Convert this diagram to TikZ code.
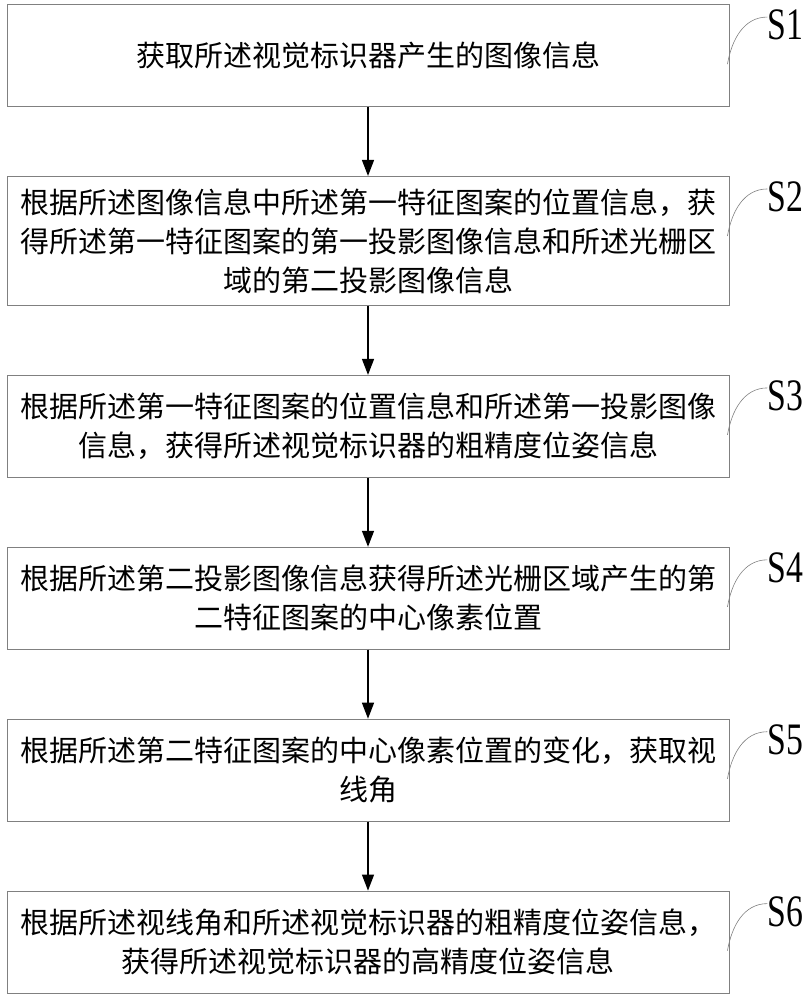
\documentclass[tikz,border=0pt]{standalone}
\usepackage{fontspec}
\usepackage{graphicx}
\setmainfont{Noto Sans CJK SC}
\newfontfamily\labfont{Liberation Serif}
\usepackage{tikz}
\usetikzlibrary{arrows.meta}
\usetikzlibrary{positioning}
\tikzstyle{aS}=[every edge/.style={draw,-{Triangle[length=16pt,width=12pt]},line width=1.3pt}]
\tikzstyle{Astep}=[draw=gray,line width=0.9pt,minimum width=722pt,minimum height=102pt,
                inner ysep=12pt,align=center,font=\fontsize{29pt}{39pt}\selectfont,node distance=69pt]
\tikzstyle{Alab}=[inner sep=0,font=\labfont\fontsize{45pt}{45pt}\selectfont]
\tikzstyle{Acurve}=[draw=gray,line width=0.6pt]
\newcommand{\tagl}[1]{\node[Alab] (#1n) at ([xshift=56pt,yshift=-21pt]#1.north east) {\scalebox{0.75}[1]{#1}};\draw[Acurve] ([xshift=-2pt,yshift=-60pt]#1.north east) to[out=80,in=180] ([yshift=8pt]#1n.west);}
\newcommand{\firstl}[2]{\node[Astep] (#1) at (368,-55.5) {#2};\tagl{#1}}
\newcommand{\stepl}[3]{\node[Astep,below=of #1] (#2) {#3};\path (#1) edge (#2);\tagl{#2}}
\begin{document}
\begin{tikzpicture}[aS,x=1pt,y=1pt]
	\useasboundingbox (0,0) rectangle (810,-1000);

	\firstl{S1}{获取所述视觉标识器产生的图像信息};
	\stepl{S1}{S2}{根据所述图像信息中所述第一特征图案的位置信息，获\\得所述第一特征图案的第一投影图像信息和所述光栅区\\域的第二投影图像信息};
	\stepl{S2}{S3}{根据所述第一特征图案的位置信息和所述第一投影图像\\信息，获得所述视觉标识器的粗精度位姿信息};
	\stepl{S3}{S4}{根据所述第二投影图像信息获得所述光栅区域产生的第\\二特征图案的中心像素位置};
	\stepl{S4}{S5}{根据所述第二特征图案的中心像素位置的变化，获取视\\线角};
	\stepl{S5}{S6}{根据所述视线角和所述视觉标识器的粗精度位姿信息，\\获得所述视觉标识器的高精度位姿信息};
\end{tikzpicture}
\end{document}
